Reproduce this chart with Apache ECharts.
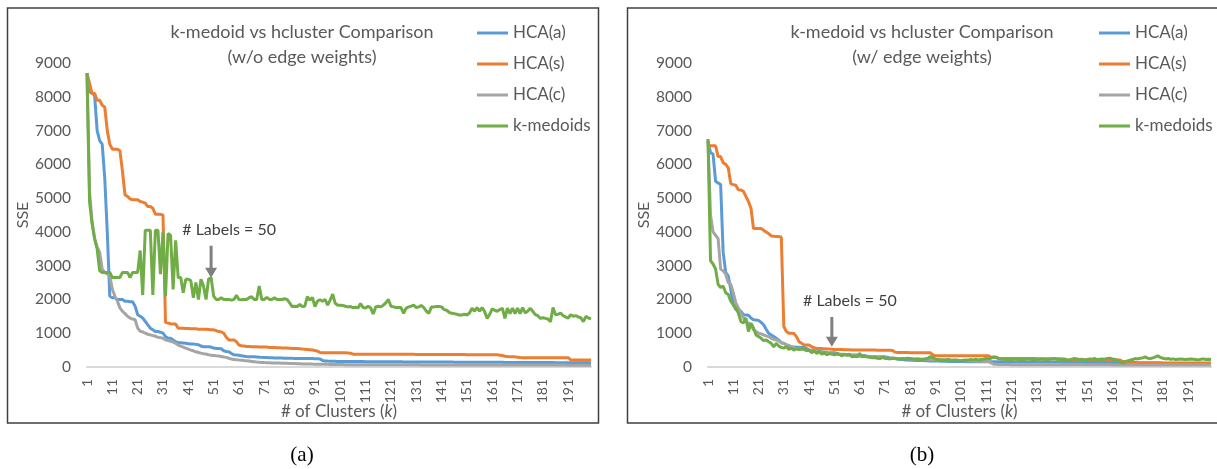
<!DOCTYPE html>
<html><head><meta charset="utf-8">
<script src="https://cdn.jsdelivr.net/npm/echarts@6/dist/echarts.min.js"></script>
<style>html,body{margin:0;padding:0;background:#fff}#c{width:1217px;height:469px}</style>
</head><body><div id="c"></div>
<script>
// ---- data ----
const clusterCounts = Array.from({length: 200}, (_, i) => String(i + 1));
const seriesNames = ['HCA(a)', 'HCA(s)', 'HCA(c)', 'k-medoids'];
const yTicks = {min: 0, max: 9000, step: 1000};
const titleA = 'k-medoid vs hcluster Comparison\n(w/o edge weights)';
const titleB = 'k-medoid vs hcluster Comparison\n(w/ edge weights)';
const captionA = '(a)';
const captionB = '(b)';
const noteText = '# Labels = 50';
const noteK = '50';
const noteA = {text: 4060, tail: 3590, tip: 2640};
const noteB = {text: 1960, tail: 1480, tip: 600};

// (a) without edge weights
const aHCAa = [8700,8150,8100,8050,7000,6700,6600,5600,4000,2100,
 2050,2050,2000,2000,2000,1950,1950,1930,1930,1800,
 1550,1500,1450,1350,1250,1150,1100,1050,1050,1030,
 1000,900,850,850,800,750,720,720,710,700,
 690,680,680,670,660,620,600,600,600,590,
 560,550,550,540,480,460,450,400,360,355,
 350,330,320,310,305,300,300,295,290,285,
 280,280,275,275,270,270,265,265,260,260,
 258,256,255,254,253,252,251,250,250,248,
 246,244,240,190,180,175,172,170,168,166,
 165,164,163,162,161,160,160,160,160,160,
 158,158,158,158,158,156,156,156,156,156,
 152,152,152,152,152,150,150,150,150,150,
 148,148,148,148,148,146,146,146,146,146,
 145,145,145,145,145,144,144,144,144,144,
 142,142,142,142,142,140,140,140,140,140,
 138,138,138,138,138,136,136,136,136,136,
 134,134,134,134,134,132,132,132,132,132,
 130,130,130,130,130,129,129,129,129,129,
 128,128,128,128,128,127,127,127,127,127];
const aHCAs = [8700,8400,8100,8100,7900,7900,7750,7700,7000,6600,
 6450,6450,6450,6400,5800,5100,5050,4980,4950,4950,
 4950,4900,4880,4850,4750,4750,4700,4520,4520,4520,
 4500,1320,1300,1280,1270,1270,1150,1150,1150,1140,
 1140,1130,1130,1130,1120,1120,1120,1120,1110,1100,
 1100,1080,1050,1040,1000,880,800,800,800,750,
 650,630,620,610,610,600,600,600,590,590,
 590,590,580,580,575,570,570,565,560,560,
 555,550,550,545,540,530,525,520,510,500,
 490,470,430,425,425,425,420,420,420,420,
 420,420,420,415,410,380,375,375,375,375,
 375,375,375,375,375,375,375,375,375,375,
 375,375,375,375,375,375,375,375,375,375,
 370,370,370,370,370,370,370,370,370,370,
 370,370,370,370,370,370,370,370,370,370,
 365,365,365,365,365,365,365,365,365,365,
 365,365,360,350,340,320,310,300,300,300,
 290,280,275,275,275,275,275,275,275,275,
 275,275,275,275,275,275,275,275,275,275,
 275,210,205,205,205,205,205,205,205,205];
const aHCAc = [8700,5200,4300,3800,3550,3400,2900,2800,2750,2700,
 2300,2100,1950,1750,1650,1580,1500,1450,1420,1400,
 1150,1060,1040,1000,970,950,930,910,880,870,
 850,800,780,760,740,700,650,620,590,560,
 530,500,480,450,430,410,395,385,360,345,
 340,330,325,310,295,285,260,235,225,215,
 205,200,190,185,175,165,155,145,140,135,
 130,128,125,122,120,118,115,112,110,108,
 105,102,100,98,95,92,90,90,88,86,
 85,84,82,80,80,78,76,75,74,72,
 72,72,70,70,70,70,70,68,68,68,
 68,68,66,66,66,66,66,65,65,65,
 65,65,64,64,64,64,64,63,63,63,
 63,63,62,62,62,62,62,62,61,61,
 61,61,61,60,60,60,60,60,60,60,
 59,59,59,59,59,59,59,59,59,59,
 58,58,58,58,58,58,58,58,58,58,
 57,57,57,57,57,57,57,57,57,57,
 56,56,56,56,56,56,56,56,56,56,
 55,55,55,55,55,55,55,55,55,55];
const aKmed = [8700,4900,4250,3800,3500,2850,2800,2800,2800,2800,
 2650,2650,2650,2650,2800,2800,2800,2650,2800,2800,
 2800,3450,2130,4050,4050,4050,2130,4050,4050,2750,
 4000,2100,3950,3900,2300,3750,2650,2650,2200,2600,
 2600,2550,2050,2500,2000,2600,2400,2000,2600,2650,
 2100,2000,2000,2050,2000,2000,2000,1980,2000,2120,
 2000,1990,2000,2000,2050,2080,2000,2000,2400,2000,
 2000,2060,2000,2000,2050,2000,2000,2000,2020,2000,
 1900,1790,1800,1790,1850,1790,1800,2080,1980,2060,
 1790,1950,1990,1950,2000,1830,1980,2160,1885,1830,
 1830,1820,1800,1780,1790,1760,1770,1750,1880,1760,
 1750,1800,1750,1570,1780,1800,1780,1830,1900,2000,
 1800,1780,1760,1760,1760,1590,1740,1780,1800,1830,
 1760,1780,1820,1760,1650,1590,1780,1780,1790,1790,
 1780,1700,1680,1620,1590,1580,1560,1540,1540,1560,
 1540,1600,1740,1650,1760,1650,1760,1640,1440,1560,
 1720,1680,1650,1700,1740,1440,1740,1580,1740,1580,
 1740,1580,1760,1600,1650,1740,1650,1550,1520,1440,
 1460,1440,1420,1340,1760,1550,1560,1600,1520,1480,
 1450,1550,1500,1520,1480,1460,1340,1500,1450,1430];

// (b) with edge weights
const bHCAa = [6700,6350,6300,5500,5450,5400,3400,2800,2700,2300,
 1850,1700,1680,1650,1550,1540,1530,1450,1400,1390,
 1380,1320,1250,1120,1000,950,900,850,800,720,
 700,650,600,590,590,585,585,580,580,550,
 500,490,480,470,460,450,440,430,425,420,
 420,400,380,375,370,365,360,355,355,355,
 350,340,330,320,310,305,300,300,300,300,
 300,290,270,260,250,240,230,220,210,205,
 200,200,195,195,190,190,185,185,180,180,
 175,175,170,170,170,165,165,165,160,160,
 160,160,158,158,158,156,156,156,155,155,
 155,154,154,153,153,152,152,151,151,150,
 150,150,150,150,150,150,150,150,150,150,
 145,145,145,145,145,145,145,145,145,145,
 140,140,140,140,140,140,140,140,140,140,
 135,135,135,135,135,135,135,135,135,135,
 130,130,130,130,130,130,130,130,130,130,
 125,125,125,125,125,125,125,125,125,125,
 120,120,120,120,120,120,120,120,120,120,
 115,115,115,115,115,115,115,115,115,115];
const bHCAs = [6550,6550,6550,6550,6230,6230,6050,6000,5900,5430,
 5400,5380,5250,5240,5200,5050,4900,4700,4100,4100,
 4100,4100,4050,4000,3950,3880,3870,3860,3860,3850,
 1200,1050,1000,1000,990,900,750,700,650,650,
 650,600,570,550,550,545,540,535,530,525,
 520,520,515,515,510,510,510,505,505,505,
 503,503,500,500,500,500,500,498,498,498,
 495,495,495,490,440,430,430,430,430,430,
 425,425,425,425,425,425,425,425,420,360,
 330,330,330,330,330,330,330,330,330,330,
 330,330,330,330,330,330,330,330,330,330,
 330,330,290,290,290,255,255,255,255,255,
 250,250,250,250,250,250,250,250,250,250,
 245,245,245,245,245,245,245,245,245,245,
 240,240,210,210,210,210,210,210,210,210,
 210,210,210,210,210,210,210,210,210,210,
 210,210,210,210,160,160,160,110,110,110,
 110,110,110,110,110,110,110,110,110,110,
 105,105,105,105,105,105,105,105,105,105,
 100,100,100,100,100,100,100,100,100,100];
const bHCAc = [6700,4500,4000,3900,3800,2900,2850,2750,2500,2450,
 2200,1900,1750,1600,1450,1350,1300,1250,1100,1050,
 1000,980,950,920,900,850,820,800,780,720,
 700,660,640,600,560,550,540,530,510,500,
 490,480,470,460,450,420,410,400,400,390,
 380,375,370,365,360,350,345,340,335,330,
 320,315,310,305,300,295,290,285,280,275,
 270,265,260,258,256,254,252,250,250,250,
 240,238,236,234,232,230,228,226,224,222,
 220,218,216,214,212,210,208,206,204,200,
 195,190,185,180,178,176,174,172,170,168,
 165,162,120,80,78,76,75,74,73,72,
 70,70,70,70,70,70,70,70,70,70,
 68,68,68,68,68,68,68,68,68,68,
 66,66,66,66,66,66,66,66,66,66,
 64,64,64,64,64,64,64,64,64,64,
 62,62,62,62,62,62,62,62,62,62,
 60,60,60,60,60,60,60,60,60,60,
 58,58,58,58,58,58,58,58,58,58,
 56,56,56,56,56,56,56,56,56,56];
const bKmed = [6750,3150,3050,2900,2450,2350,2400,2200,2150,1950,
 1850,1750,1600,1350,1300,1450,1050,1300,1150,950,
 900,850,780,800,750,700,600,700,620,580,
 560,600,520,560,500,540,520,530,560,480,
 500,420,480,400,460,380,420,360,400,380,
 360,400,370,330,380,350,380,300,320,300,
 400,300,330,300,290,270,280,260,250,290,
 260,250,240,260,250,240,230,250,240,260,
 250,240,230,240,230,220,240,260,310,280,
 230,220,200,210,200,220,200,190,200,190,
 185,200,210,200,220,210,230,200,220,230,
 250,240,260,300,280,250,240,230,220,230,
 220,230,230,220,230,220,230,240,220,230,
 220,230,240,230,220,230,240,250,230,220,
 230,220,210,200,230,250,240,220,230,210,
 220,240,230,250,220,230,240,230,250,260,
 240,220,200,150,120,160,180,200,220,250,
 240,260,270,300,260,250,270,300,330,280,
 260,240,250,230,240,220,230,240,230,220,
 230,240,230,220,210,230,240,220,230,220];

// ---- styling ----
const colors = ['#5B9BD5', '#ED7D31', '#A5A5A5', '#70AD47'];
const FONT = 'Lato';
const TXT = '#595959';
const panels = [
  {grid: {left: 87, top: 63, width: 504, height: 304}, title: titleA, titleX: 302, legendX: 477,
   data: [aHCAa, aHCAs, aHCAc, aKmed], note: noteA, box: [7.5, 8, 591, 415], caption: captionA, capX: 302},
  {grid: {left: 708, top: 63, width: 503, height: 304}, title: titleB, titleX: 922, legendX: 1099,
   data: [bHCAa, bHCAs, bHCAc, bKmed], note: noteB, box: [627.5, 8, 600, 415], caption: captionB, capX: 922}
];

const chart = echarts.init(document.getElementById('c'), null, {renderer: 'canvas'});
const option = {
  animation: false,
  backgroundColor: '#fff',
  color: colors,
  title: panels.map(p => ({
    text: p.title, left: p.titleX, top: 20, textAlign: 'center', padding: 0,
    textStyle: {fontFamily: FONT, fontSize: 18, fontWeight: 'normal', color: TXT, lineHeight: 25}
  })),
  legend: panels.map(p => ({
    data: seriesNames, orient: 'vertical', left: p.legendX, top: 23, padding: 0,
    icon: 'rect', itemWidth: 31, itemHeight: 3, itemGap: 11, selectedMode: false,
    textStyle: {fontFamily: FONT, fontSize: 17, color: TXT, lineHeight: 20}
  })),
  grid: panels.map(p => Object.assign({outerBoundsMode: 'none'}, p.grid)),
  xAxis: panels.map((p, i) => ({
    type: 'category', gridIndex: i, data: clusterCounts, boundaryGap: false,
    axisLine: {lineStyle: {color: '#D9D9D9', width: 2}}, axisTick: {show: false},
    axisLabel: {interval: 9, rotate: 90, margin: 12, fontFamily: FONT, fontSize: 14, color: TXT},
    name: '# of Clusters ({i|k})', nameLocation: 'middle', nameGap: 36, nameMoveOverlap: false,
    nameTextStyle: {fontFamily: FONT, fontSize: 17, color: TXT, rich: {i: {fontFamily: FONT, fontSize: 17, color: TXT, fontStyle: 'italic'}}}
  })),
  yAxis: panels.map((p, i) => ({
    type: 'value', gridIndex: i, min: yTicks.min, max: yTicks.max, interval: yTicks.step,
    axisLine: {show: false}, axisTick: {show: false}, splitLine: {show: false},
    axisLabel: {margin: 16, fontFamily: FONT, fontSize: 15.5, color: TXT, formatter: v => String(v)},
    name: 'SSE', nameLocation: 'middle', nameGap: 56, nameRotate: 90, nameMoveOverlap: false,
    nameTextStyle: {fontFamily: FONT, fontSize: 16, color: TXT}
  })),
  series: []
};
panels.forEach((p, i) => {
  seriesNames.forEach((n, j) => {
    option.series.push({
      type: 'line', name: n, xAxisIndex: i, yAxisIndex: i, data: p.data[j],
      showSymbol: false, symbol: 'none', lineStyle: {width: 3, color: colors[j]}, itemStyle: {color: colors[j]},
      z: 2 + j
    });
  });
});
chart.setOption(option);

// annotations & frames
const graphics = [];
panels.forEach((p, i) => {
  const [bx, by, bw, bh] = p.box;
  graphics.push({type: 'rect', shape: {x: bx, y: by, width: bw, height: bh}, style: {fill: null, stroke: '#404040', lineWidth: 1.5}, silent: true, z: 0});
  graphics.push({type: 'text', x: p.capX, y: 455, style: {text: p.caption, font: '21px "Liberation Serif", serif', fill: '#000', textAlign: 'center', textVerticalAlign: 'middle'}});
  const tail = chart.convertToPixel({xAxisIndex: i, yAxisIndex: i}, [noteK, p.note.tail]);
  const tip = chart.convertToPixel({xAxisIndex: i, yAxisIndex: i}, [noteK, p.note.tip]);
  const txt = chart.convertToPixel({xAxisIndex: i, yAxisIndex: i}, [noteK, p.note.text]);
  graphics.push({type: 'line', shape: {x1: tail[0], y1: tail[1], x2: tip[0], y2: tip[1] - 9}, style: {stroke: '#7F7F7F', lineWidth: 3}, z: 20});
  graphics.push({type: 'polygon', shape: {points: [[tip[0] - 6, tip[1] - 10], [tip[0] + 6, tip[1] - 10], [tip[0], tip[1]]]}, style: {fill: '#7F7F7F'}, z: 20});
  graphics.push({type: 'text', x: txt[0] + 18, y: txt[1], style: {text: noteText, font: '16px Lato', fill: '#404040', textAlign: 'center', textVerticalAlign: 'middle'}, z: 20});
});
chart.setOption({graphic: graphics});
</script></body></html>
